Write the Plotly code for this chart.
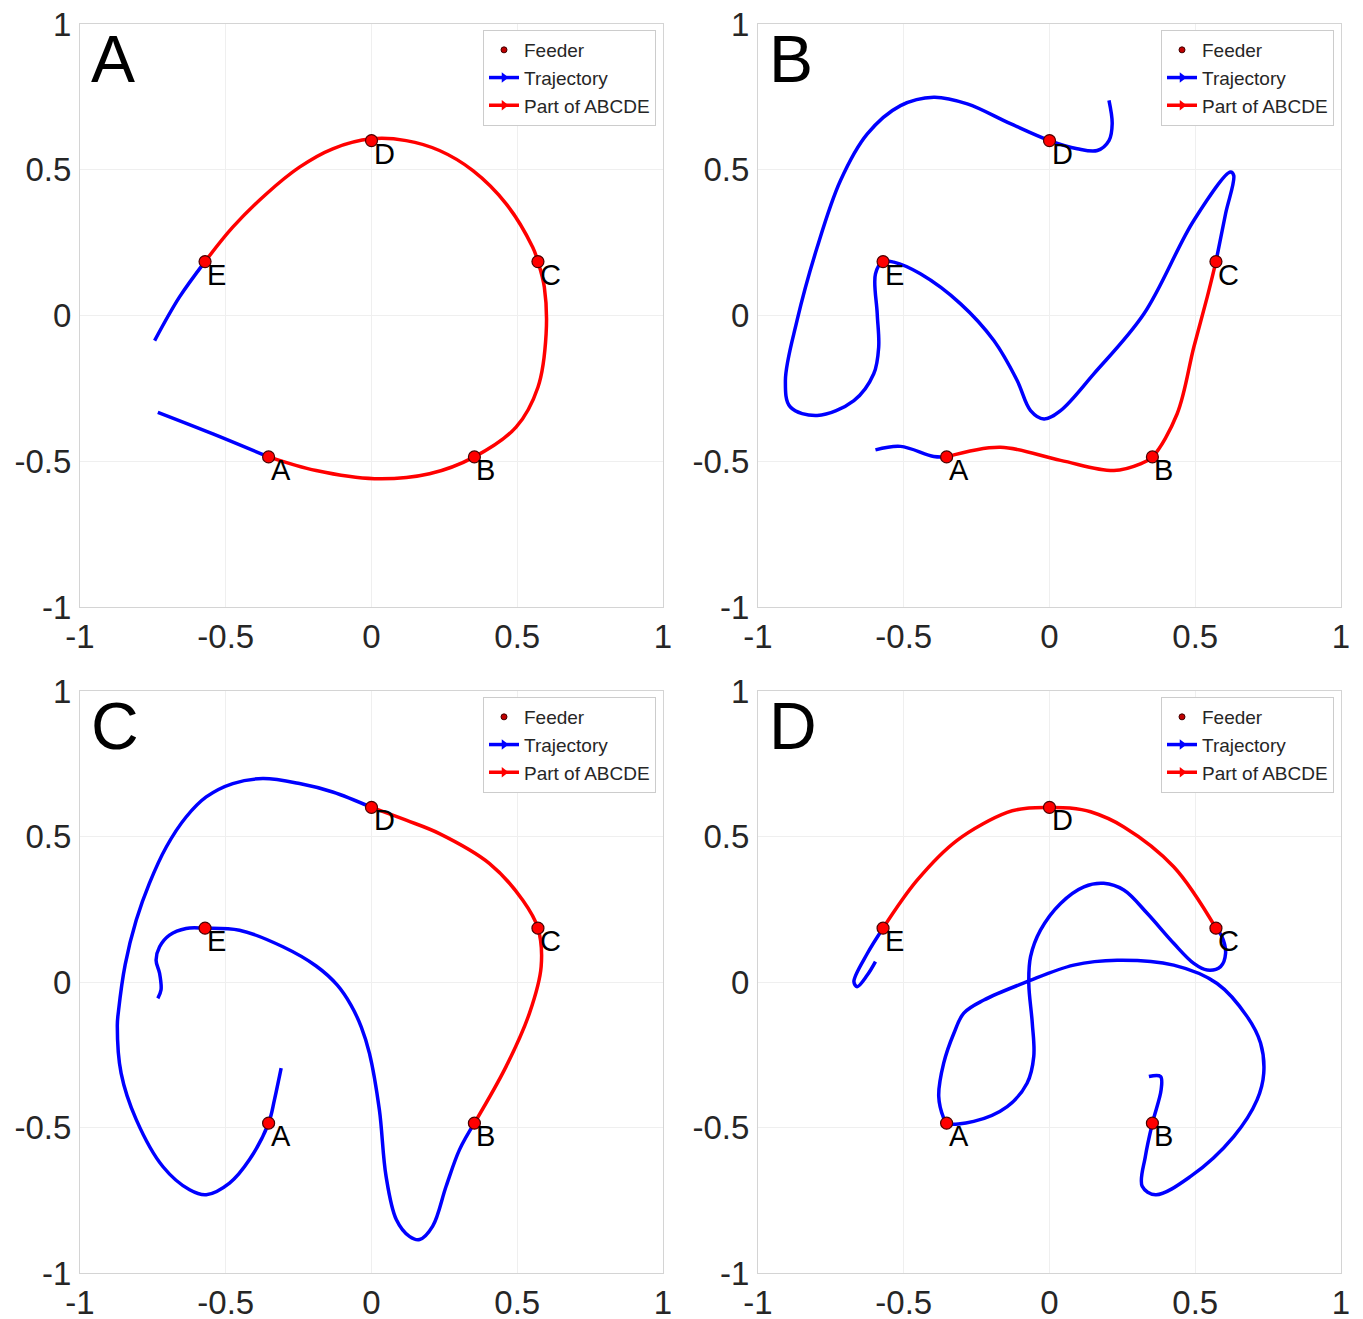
import plotly.graph_objects as go

# ---------------- data ----------------
FEEDER_X = [-0.353, 0.353, 0.571, 0.0, -0.571]
FEEDER_Y = [-0.485, -0.485, 0.185, 0.6, 0.185]
FEEDER_LABELS = ["A", "B", "C", "D", "E"]
PANEL_LABELS = ["A", "B", "C", "D"]
TICK_VALS = [-1, -0.5, 0, 0.5, 1]
TICK_TEXT = ["-1", "-0.5", "0", "0.5", "1"]

# Panel A
TRAJ_A_X = [-0.733, -0.544, -0.353, -0.19, 0.01, 0.199, 0.353, 0.496, 0.571, 0.599, 0.593, 0.571,
            0.553, 0.462, 0.348, 0.233, 0.119, 0.0, -0.133, -0.247, -0.361, -0.476, -0.571, -0.659, -0.744]
TRAJ_A_Y = [-0.332, -0.406, -0.485, -0.532, -0.56, -0.543, -0.485, -0.383, -0.246, -0.063, 0.097, 0.185,
            0.234, 0.383, 0.497, 0.566, 0.6, 0.606, 0.572, 0.509, 0.417, 0.303, 0.185, 0.063, -0.086]
RED_A = (2, 22)

# Panel B
TRAJ_B_X = [-0.597, -0.511, -0.397, -0.353, -0.168, 0.038, 0.221, 0.312, 0.353, 0.438, 0.495, 0.541, 0.571,
            0.604, 0.632, 0.621, 0.495, 0.324, 0.152, 0.038, -0.019, -0.065, -0.111, -0.191, -0.305, -0.443,
            -0.534, -0.571, -0.597, -0.591, -0.586, -0.603, -0.671, -0.797, -0.889, -0.906, -0.866, -0.797,
            -0.717, -0.625, -0.511, -0.397, -0.282, -0.134, 0.0, 0.095, 0.164, 0.204, 0.215, 0.204]
TRAJ_B_Y = [-0.461, -0.449, -0.484, -0.485, -0.452, -0.497, -0.532, -0.509, -0.485, -0.337, -0.109, 0.063, 0.185,
            0.349, 0.48, 0.492, 0.326, 0.006, -0.2, -0.326, -0.355, -0.326, -0.223, -0.086, 0.04, 0.143,
            0.183, 0.185, 0.143, 0.006, -0.109, -0.2, -0.292, -0.343, -0.314, -0.223, -0.017, 0.234,
            0.463, 0.623, 0.72, 0.749, 0.726, 0.658, 0.6, 0.572, 0.566, 0.6, 0.658, 0.738]
RED_B = (3, 12)

# Panel C
TRAJ_C_X = [-0.733, -0.722, -0.727, -0.739, -0.727, -0.693, -0.636, -0.571, -0.453, -0.304, -0.19, -0.118,
            -0.07, -0.035, -0.007, 0.027, 0.05, 0.085, 0.13, 0.165, 0.21, 0.256, 0.302, 0.353, 0.462, 0.542,
            0.582, 0.571, 0.519, 0.405, 0.233, 0.119, 0.0, -0.133, -0.247, -0.373, -0.476, -0.567, -0.636,
            -0.704, -0.762, -0.807, -0.845, -0.868, -0.872, -0.859, -0.807, -0.716, -0.624, -0.567, -0.487,
            -0.419, -0.353, -0.333, -0.316, -0.31]
TRAJ_C_Y = [-0.056, -0.027, 0.03, 0.075, 0.121, 0.161, 0.184, 0.185, 0.178, 0.121, 0.055, -0.01,
            -0.08, -0.155, -0.245, -0.439, -0.668, -0.816, -0.874, -0.885, -0.839, -0.702, -0.576, -0.485, -0.29,
            -0.107, 0.053, 0.185, 0.281, 0.407, 0.51, 0.556, 0.6, 0.653, 0.682, 0.699, 0.682, 0.636, 0.567,
            0.464, 0.339, 0.213, 0.06, -0.1, -0.15, -0.313, -0.473, -0.634, -0.714, -0.731, -0.691,
            -0.611, -0.485, -0.405, -0.325, -0.296]
RED_C = (23, 32)

# Panel D
TRAJ_D_X = [0.341, 0.381, 0.383, 0.353, 0.329, 0.318, 0.364, 0.484, 0.632, 0.712, 0.735, 0.724, 0.678, 0.575,
            0.426, 0.232, 0.083, -0.077, -0.225, -0.294, -0.328, -0.363, -0.38, -0.363, -0.353, -0.26, -0.145,
            -0.077, -0.054, -0.059, -0.071, -0.065, -0.031, 0.038, 0.118, 0.186, 0.255, 0.335, 0.426, 0.495,
            0.541, 0.587, 0.604, 0.592, 0.571, 0.426, 0.255, 0.141, 0.07, 0.0, -0.07, -0.145, -0.317, -0.454,
            -0.571, -0.625, -0.671, -0.66, -0.625, -0.597]
TRAJ_D_Y = [-0.325, -0.325, -0.37, -0.485, -0.599, -0.702, -0.731, -0.668, -0.531, -0.405, -0.313, -0.21, -0.119, -0.005,
            0.058, 0.075, 0.058, 0.001, -0.062, -0.107, -0.176, -0.279, -0.393, -0.468, -0.485, -0.479, -0.428,
            -0.348, -0.256, -0.142, -0.005, 0.087, 0.178, 0.27, 0.327, 0.339, 0.316, 0.236, 0.133, 0.064,
            0.041, 0.053, 0.098, 0.155, 0.185, 0.396, 0.533, 0.585, 0.598, 0.6, 0.598, 0.583, 0.487, 0.35,
            0.185, 0.098, 0.001, -0.016, 0.024, 0.07]
RED_D = (44, 54)

PANELS = [(TRAJ_A_X, TRAJ_A_Y, RED_A), (TRAJ_B_X, TRAJ_B_Y, RED_B),
          (TRAJ_C_X, TRAJ_C_Y, RED_C), (TRAJ_D_X, TRAJ_D_Y, RED_D)]

# ---------------- layout helpers ----------------
OFF = 8  # page body margin
W, H = 1363 - OFF, 1319 - OFF


def px_x(p):
    return (p - OFF) / W


def px_y(p):
    return 1 - (p - OFF) / H


X_DOMAINS = [[px_x(80), px_x(663)], [px_x(758), px_x(1341)]]
Y_DOMAINS = [[px_y(607), px_y(24)], [px_y(1273), px_y(691)]]
LEGEND_POS = [(px_x(483), px_y(30)), (px_x(1161), px_y(30)), (px_x(483), px_y(697)), (px_x(1161), px_y(697))]

BLUE = "#0000ff"
RED = "#ff0000"
TICK_FONT = dict(family="Liberation Sans, Arial", size=33, color="#262626")

fig = go.Figure()
layout = dict(width=W, height=H, margin=dict(l=0, r=0, t=0, b=0),
              paper_bgcolor="white", plot_bgcolor="white", annotations=[])

for i, (tx, ty, (r0, r1)) in enumerate(PANELS):
    n = i + 1
    xa = "x" if n == 1 else f"x{n}"
    ya = "y" if n == 1 else f"y{n}"
    lg = "legend" if n == 1 else f"legend{n}"
    row, col = divmod(i, 2)

    segs = [(0, r0, BLUE), (r0, r1, RED), (r1, len(tx) - 1, BLUE)]
    for (a, b, colr) in segs:
        if b <= a:
            continue
        fig.add_trace(go.Scatter(
            x=tx[a:b + 1], y=ty[a:b + 1], mode="lines",
            line=dict(color=colr, width=3.5, shape="spline", smoothing=1.0),
            showlegend=False, xaxis=xa, yaxis=ya))

    fig.add_trace(go.Scatter(
        x=FEEDER_X, y=FEEDER_Y, mode="markers", name="Feeder",
        marker=dict(color=RED, size=12, line=dict(color="#4a0000", width=1.2)),
        showlegend=False, xaxis=xa, yaxis=ya))

    # legend entries (as in the reference legend: small dot, arrows)
    fig.add_trace(go.Scatter(
        x=[None], y=[None], mode="markers", name="Feeder",
        marker=dict(color="#c00000", size=6, line=dict(color="#400000", width=1)),
        showlegend=True, legend=lg, legendrank=1, xaxis=xa, yaxis=ya))
    fig.add_trace(go.Scatter(
        x=[None], y=[None], mode="lines+markers", name="Trajectory",
        line=dict(color=BLUE, width=3.5), marker=dict(symbol="triangle-right", size=9, color=BLUE),
        showlegend=True, legend=lg, legendrank=2, xaxis=xa, yaxis=ya))
    fig.add_trace(go.Scatter(
        x=[None], y=[None], mode="lines+markers", name="Part of ABCDE",
        line=dict(color=RED, width=3.5), marker=dict(symbol="triangle-right", size=9, color=RED),
        showlegend=True, legend=lg, legendrank=3, xaxis=xa, yaxis=ya))

    for fx, fy, lab in zip(FEEDER_X, FEEDER_Y, FEEDER_LABELS):
        layout["annotations"].append(dict(
            x=fx, y=fy, xref=xa, yref=ya, text=lab, showarrow=False,
            xanchor="left", yanchor="top", xshift=0, yshift=5,
            font=dict(family="Liberation Sans, Arial", size=29, color="black")))

    layout["annotations"].append(dict(
        x=0.02, y=1.0, xref=f"{xa} domain", yref=f"{ya} domain", text=PANEL_LABELS[i],
        showarrow=False, xanchor="left", yanchor="top", xshift=-3, yshift=4,
        font=dict(family="Liberation Sans, Arial", size=66, color="black")))

    axis_common = dict(range=[-1, 1], tickvals=TICK_VALS, ticktext=TICK_TEXT, showgrid=True,
                       gridcolor="#efefef", gridwidth=1, zeroline=False, showline=True,
                       linecolor="#d4d4d4", linewidth=1, mirror=True, ticks="",
                       tickfont=TICK_FONT, automargin=False, ticklabeloverflow="allow")
    layout["xaxis" if n == 1 else f"xaxis{n}"] = dict(axis_common, domain=X_DOMAINS[col], anchor=ya)
    layout["yaxis" if n == 1 else f"yaxis{n}"] = dict(axis_common, domain=Y_DOMAINS[row], anchor=xa,
                                                      ticklabelstandoff=1)
    lx, ly = LEGEND_POS[i]
    layout[lg] = dict(x=lx, y=ly, xanchor="left", yanchor="top", bgcolor="white",
                      bordercolor="#cccccc", borderwidth=1, itemwidth=30, tracegroupgap=0,
                      font=dict(family="Liberation Sans, Arial", size=19, color="#262626"))

fig.update_layout(**layout)
fig.write_html("out.html")
